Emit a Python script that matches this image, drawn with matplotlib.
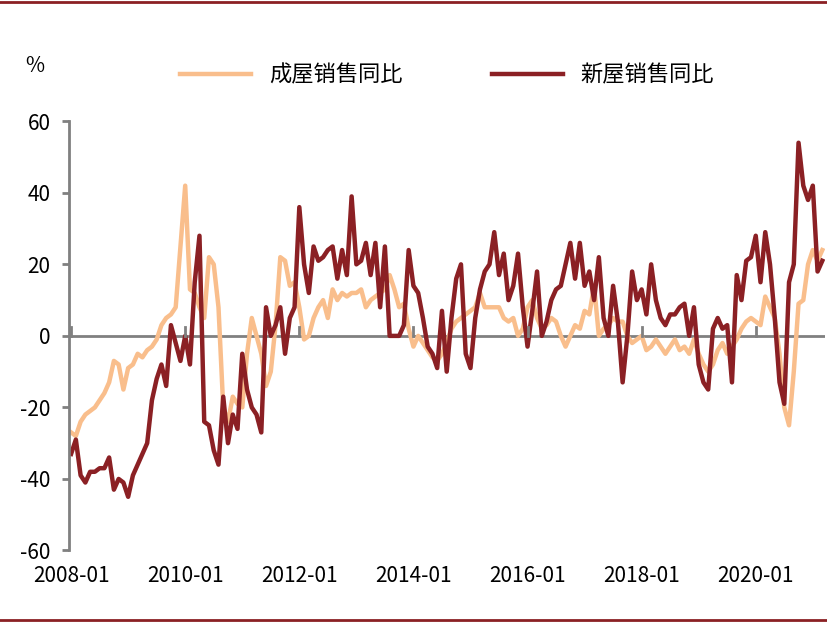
import matplotlib
matplotlib.use("Agg")
import matplotlib.pyplot as plt
from matplotlib import font_manager as fm
import numpy as np

cjk = None
for f in fm.findSystemFonts():
    if "CJK" in f and ("SC" in f or "Regular" in f):
        cjk = f
        break
if cjk:
    fm.fontManager.addfont(cjk)
    cjk_name = fm.FontProperties(fname=cjk).get_name()
else:
    cjk_name = "Noto Sans CJK SC"
plt.rcParams["font.family"] = [cjk_name, "DejaVu Sans"]

existing = [-27,-28,-24,-22,-21,-20,-18,-16,-13,-7,-8,-15,
            -9,-8,-5,-6,-4,-3,-1,3,5,6,8,25,
            42,13,12,8,5,22,20,8,-20,-24,-17,-19,
            -20,-5,5,0,-5,-14,-10,3,22,21,14,15,
            8,-1,0,5,8,10,5,13,10,12,11,12,
            12,13,8,10,11,12,13,17,13,8,9,2,
            -3,0,-2,-4,-6,-7,-5,-2,2,4,5,6,
            7,8,12,8,8,8,8,5,4,5,0,2,
            8,10,5,2,3,5,4,0,-3,0,3,2,
            7,6,14,0,2,3,5,4,4,0,-2,-1,
            0,-4,-3,-1,-3,-5,-3,-1,-4,-3,-5,-1,
            -5,-8,-10,-8,-4,-2,-5,-3,-1,2,4,5,
            4,3,11,8,5,-5,-20,-25,-10,9,10,20,24,21,24]
new = [-33,-29,-39,-41,-38,-38,-37,-37,-34,-43,-40,-41,
       -45,-39,-36,-33,-30,-18,-12,-8,-14,3,-2,-7,
       0,-8,15,28,-24,-25,-32,-36,-17,-30,-22,-26,
       -5,-15,-20,-22,-27,8,0,3,8,-5,5,8,
       36,20,12,25,21,22,24,25,16,24,17,39,
       20,21,26,17,26,8,25,0,0,0,3,24,
       14,12,5,-3,-5,-9,7,-10,5,16,20,-5,
       -9,5,13,18,20,29,17,23,10,14,23,8,
       -3,7,18,0,4,10,13,14,20,26,16,26,
       14,18,10,22,5,0,14,4,-13,0,18,10,
       13,6,20,10,5,3,6,6,8,9,0,8,
       -8,-13,-15,2,5,2,3,-13,17,10,21,22,
       28,15,29,20,5,-13,-19,15,20,54,42,38,42,18,21]
tick_labels = ["2008-01","2010-01","2012-01","2014-01","2016-01","2018-01","2020-01"]
yticks = [-60,-40,-20,0,20,40,60]

fig = plt.figure(figsize=(8.28,6.22), dpi=100)
ax = fig.add_axes([0.083, 0.115, 0.913, 0.69])
x = np.arange(len(new))
ax.plot(x, existing, color="#F9BE8C", lw=3.2, label="成屋销售同比")
ax.plot(x, new, color="#8B2024", lw=3.2, label="新屋销售同比")
ax.set_xlim(-0.5, len(new)-0.5)
ax.set_ylim(-60, 60)
ax.set_yticks(yticks)
ax.set_yticklabels([str(v) for v in yticks], fontsize=15)
for s in ["top","right","bottom"]:
    ax.spines[s].set_visible(False)
ax.spines["left"].set_color("#808080")
ax.spines["left"].set_linewidth(2)
ax.tick_params(axis="y", length=5, width=2, color="#808080", pad=8)
ax.axhline(0, color="#808080", lw=2, zorder=0)
tpos = [24*i for i in range(7)]
ax.set_xticks(tpos)
ax.set_xticklabels([])
ax.tick_params(axis="x", length=0)
for p in tpos:
    ax.plot([p,p],[0,2.5], color="#808080", lw=2)
for p, l in zip(tpos, tick_labels):
    ax.text(p, -64, l, ha="center", va="top", fontsize=15)
fig.text(0.03, 0.885, "%", fontsize=15)
fig.legend(loc="upper center", bbox_to_anchor=(0.54, 0.93), ncol=2, frameon=False,
           fontsize=16, handlelength=3.2, columnspacing=4)
fig.add_artist(plt.Line2D([0,1],[0.997,0.997], color="#8B2024", lw=2))
fig.add_artist(plt.Line2D([0,1],[0.003,0.003], color="#8B2024", lw=2))
fig.savefig("out.png", dpi=100)
